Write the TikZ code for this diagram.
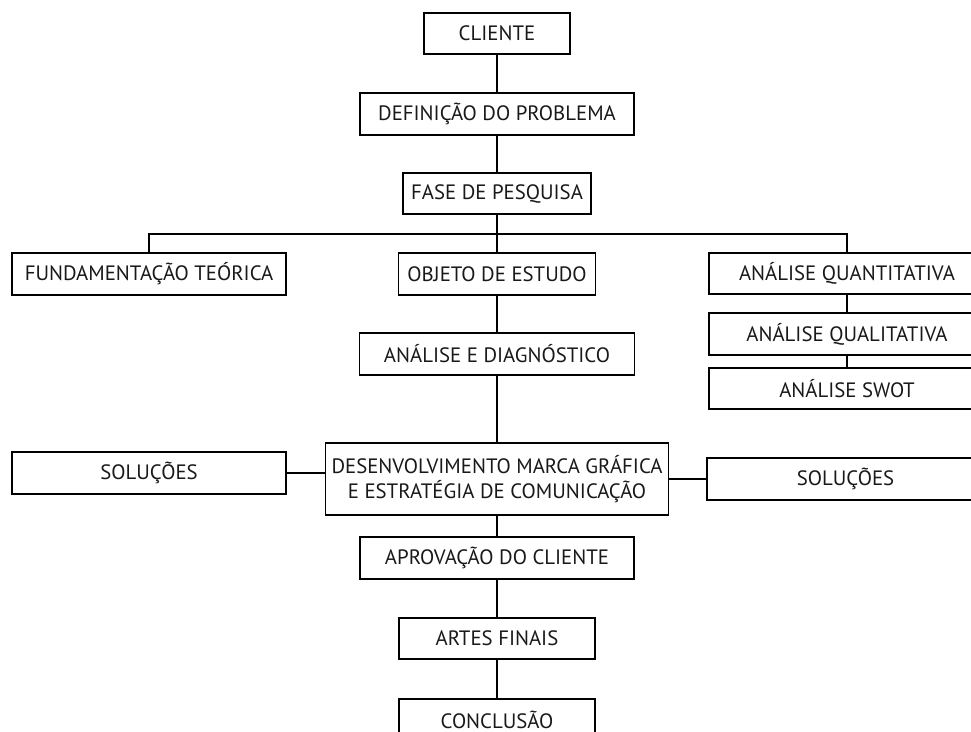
\documentclass[tikz,border=0pt]{standalone}
\usepackage{fontspec}
\setmainfont{PT Sans}
\begin{document}
\begin{tikzpicture}[x=1pt,y=-1pt,
  box/.style={draw=black,line width=1.6pt,inner sep=0pt,align=center,font=\fontsize{20.8}{25}\selectfont,text=black!90},
  conn/.style={draw=black,line width=1.6pt}]
\useasboundingbox (0,0) rectangle (971,731);
\clip (0,0) rectangle (971,731);
\node[box,minimum width=146,minimum height=41] (cliente) at (497,33.5) {CLIENTE};
\node[box,minimum width=274,minimum height=42] (def) at (497,114) {DEFINIÇÃO DO PROBLEMA};
\node[box,minimum width=188,minimum height=41] (fase) at (497,193.5) {FASE DE PESQUISA};
\node[box,minimum width=274,minimum height=42] (fund) at (149,274) {FUNDAMENTAÇÃO TEÓRICA};
\node[box,minimum width=197,minimum height=42] (obj) at (497,274) {OBJETO DE ESTUDO};
\node[box,minimum width=276,minimum height=41] (quant) at (847,273.5) {ANÁLISE QUANTITATIVA};
\node[box,minimum width=276,minimum height=42] (qual) at (847,334) {ANÁLISE QUALITATIVA};
\node[box,minimum width=276,minimum height=41] (swot) at (847,388.5) {ANÁLISE SWOT};
\node[box,minimum width=275,minimum height=42] (diag) at (497,354) {ANÁLISE E DIAGNÓSTICO};
\node[box,minimum width=274,minimum height=42] (solL) at (149,473) {SOLUÇÕES};
\node[box,minimum width=343,minimum height=72] (des) at (497,479) {DESENVOLVIMENTO MARCA GRÁFICA\\E ESTRATÉGIA DE COMUNICAÇÃO};
\node[box,minimum width=277,minimum height=42] (solR) at (845.5,479) {SOLUÇÕES};
\node[box,minimum width=274,minimum height=42] (aprov) at (497,558) {APROVAÇÃO DO CLIENTE};
\node[box,minimum width=196,minimum height=41] (artes) at (497,638.5) {ARTES FINAIS};
\node[box,minimum width=196,minimum height=41] (concl) at (497,719.5) {CONCLUSÃO};
\coordinate (bus) at (497,234);
\draw[conn] (cliente) -- (def);
\draw[conn] (def) -- (fase);
\draw[conn] (fase) -- (obj);
\draw[conn] (fund.north) |- (bus) -| (quant.north);
\draw[conn] (quant) -- (qual);
\draw[conn] (qual) -- (swot);
\draw[conn] (obj) -- (diag);
\draw[conn] (diag) -- (des);
\draw[conn] (solL.east) -- (solL.east -| des.west);
\draw[conn] (des.east) -- (solR.west);
\draw[conn] (des) -- (aprov);
\draw[conn] (aprov) -- (artes);
\draw[conn] (artes) -- (concl);
\end{tikzpicture}
\end{document}
